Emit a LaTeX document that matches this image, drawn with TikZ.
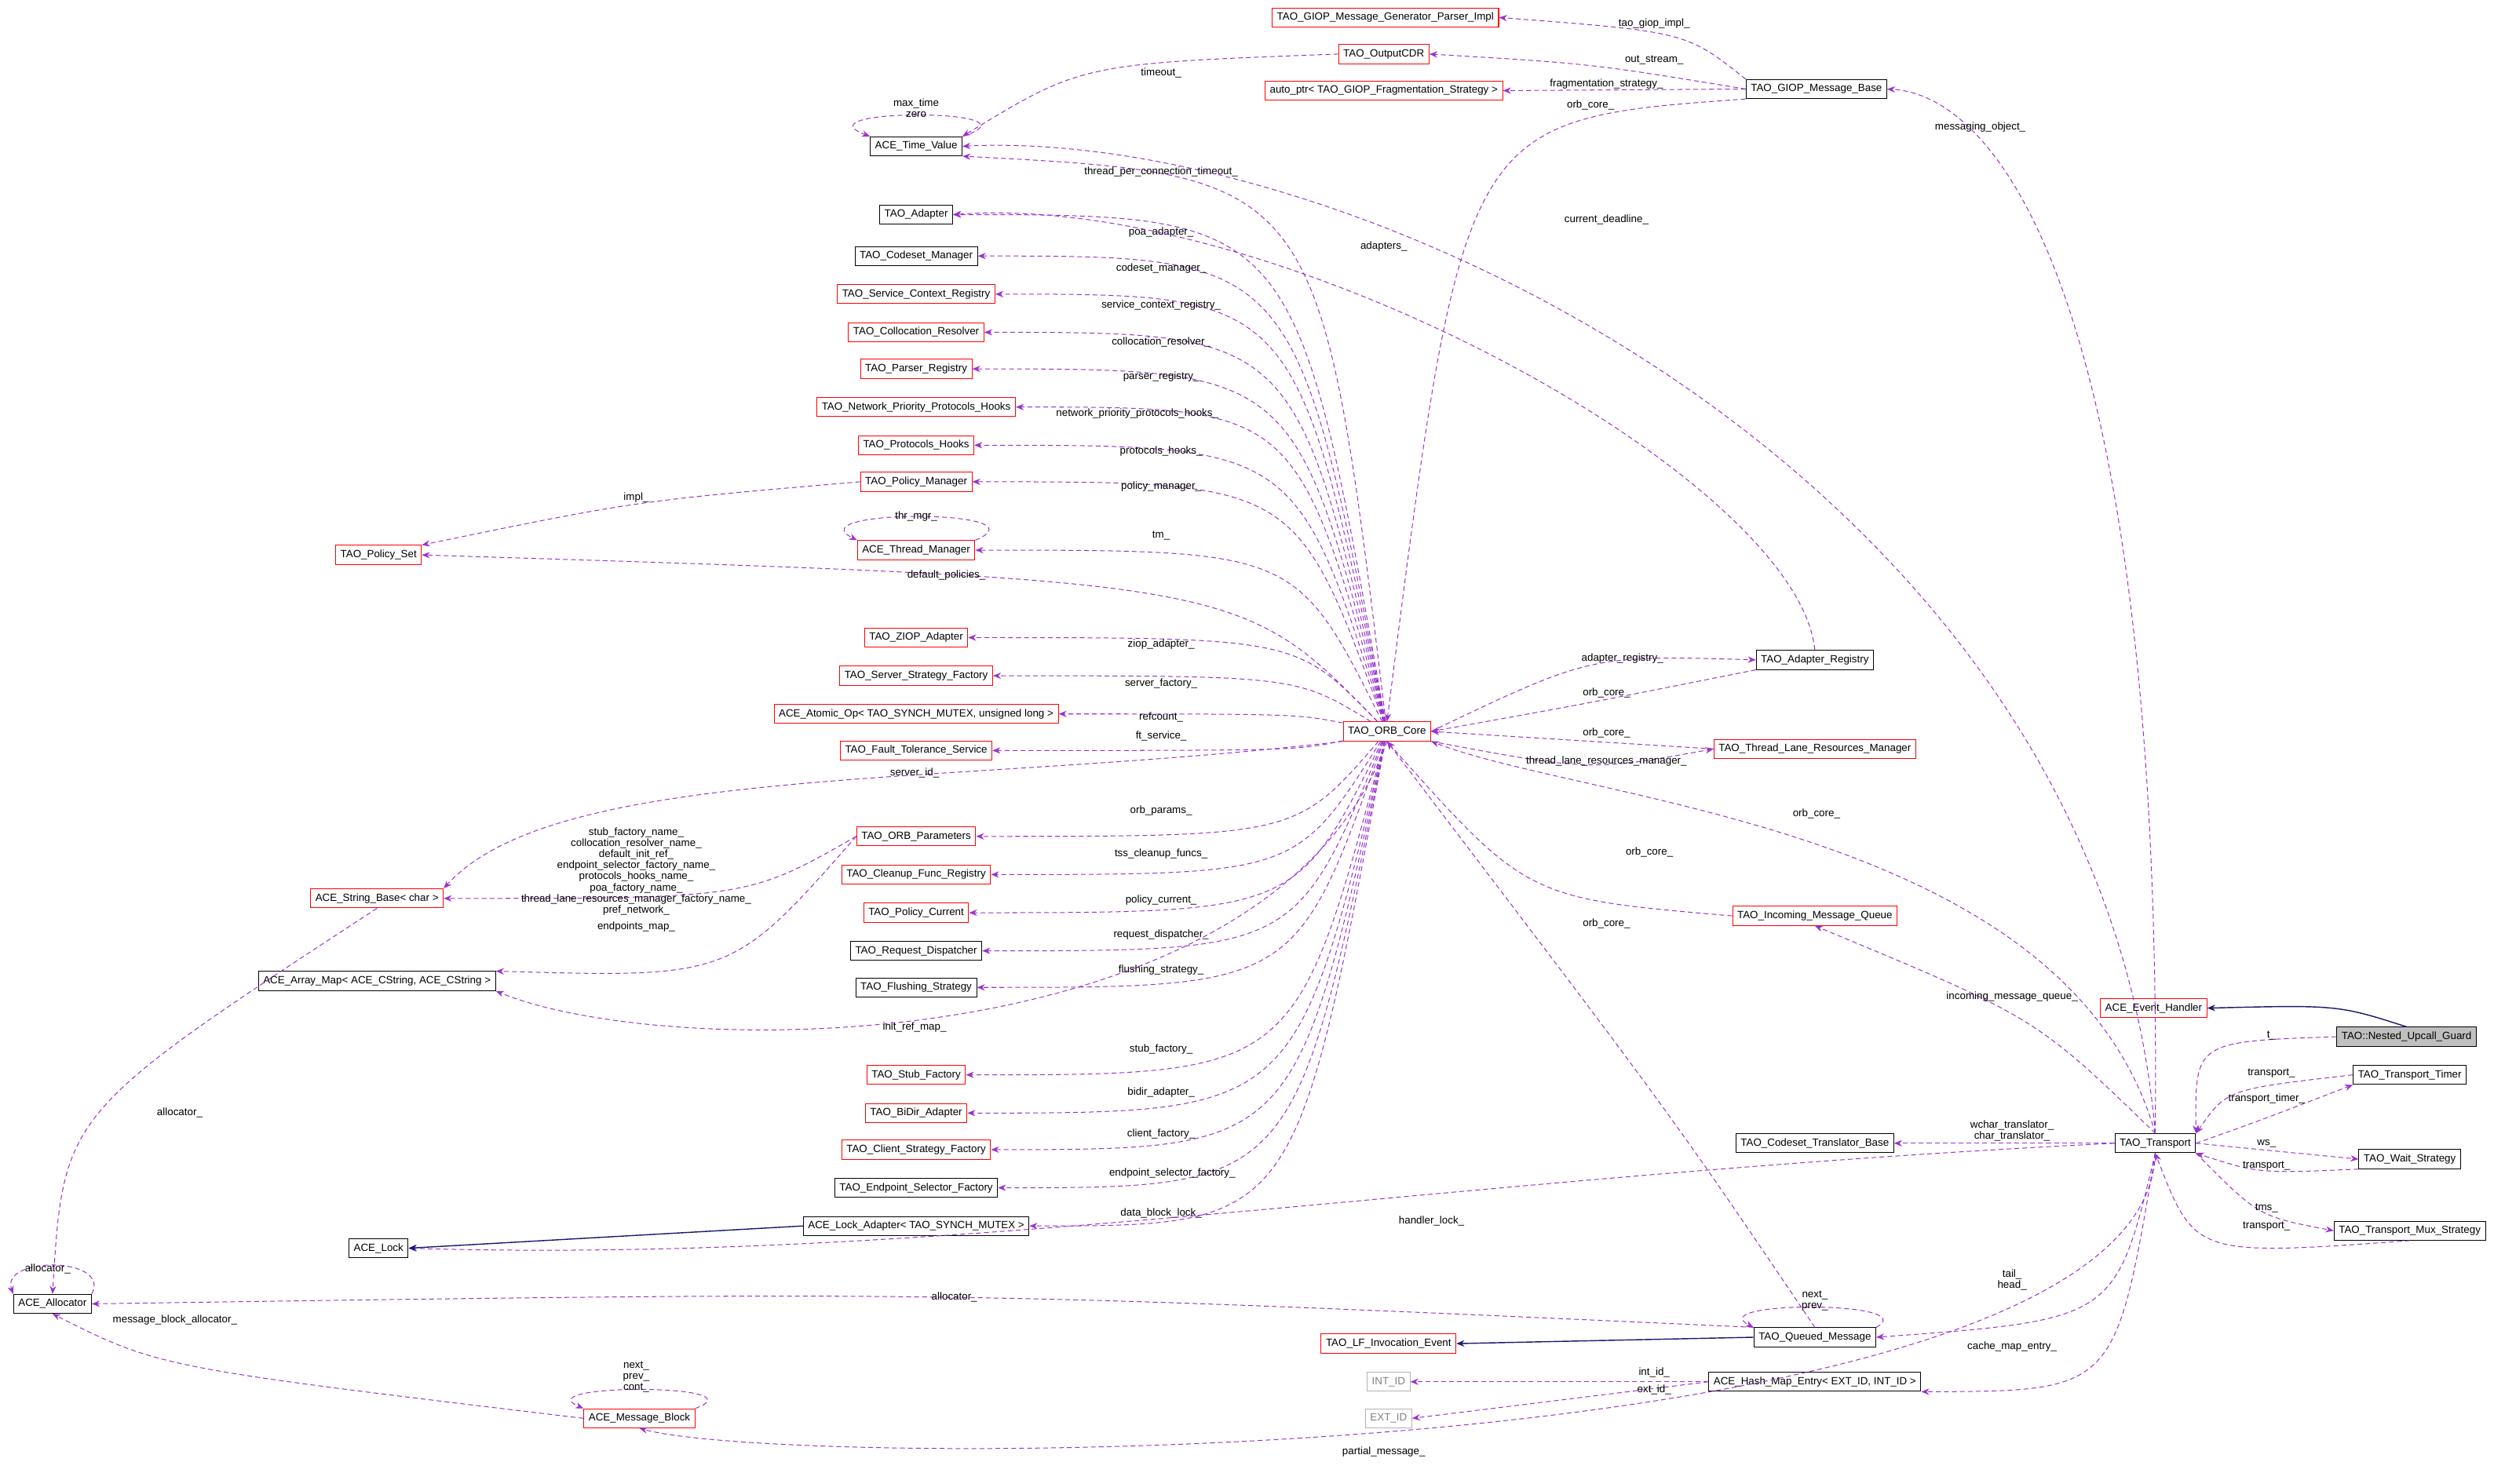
\documentclass[tikz,border=0pt]{standalone}
\usepackage{fontspec}
\setmainfont{Liberation Sans}
\usetikzlibrary{arrows.meta}
\definecolor{mem}{HTML}{9A32CD}
\definecolor{inh}{HTML}{191970}
\tikzset{
 box/.style={draw=black,line width=0.5pt,fill=white,font=\fontsize{6.6}{7}\selectfont,inner xsep=3pt,inner ysep=0pt,minimum height=12pt},
 rbox/.style={box,draw=red},
 gbox/.style={box,draw=gray!60,text=gray},
 mbr/.style={draw=mem,densely dashed,line width=0.5pt,-{Stealth[length=5pt,width=4pt]}},
 inhe/.style={draw=inh,line width=0.7pt,-{Stealth[length=5pt,width=4pt]}},
 lab/.style={font=\fontsize{6.6}{7}\selectfont,inner sep=0.5pt,align=center},
}
\newcommand{\fan}[5]{\draw[mbr] (core) .. controls (815,#2) .. (#1.east) node[lab,at={(#3,#4)}] {#5};}
\begin{document}
\begin{tikzpicture}[x=1pt,y=-1pt]
\useasboundingbox (0,0) rectangle (1568,933);
% nodes
\node[rbox] (gp) at (871,11) {TAO\_GIOP\_Message\_Generator\_Parser\_Impl};
\node[rbox] (oc) at (870,34) {TAO\_OutputCDR};
\node[rbox] (ap) at (870,57) {auto\_ptr< TAO\_GIOP\_Fragmentation\_Strategy >};
\node[box] (gb) at (1142,56) {TAO\_GIOP\_Message\_Base};
\node[box] (tv) at (576,92) {ACE\_Time\_Value};
\node[box] (ad) at (576,135) {TAO\_Adapter};
\node[box] (cm) at (576,161) {TAO\_Codeset\_Manager};
\node[rbox] (scr) at (576,185) {TAO\_Service\_Context\_Registry};
\node[rbox] (cr) at (576,209) {TAO\_Collocation\_Resolver};
\node[rbox] (pr) at (576,232) {TAO\_Parser\_Registry};
\node[rbox] (npph) at (576,256) {TAO\_Network\_Priority\_Protocols\_Hooks};
\node[rbox] (ph) at (576,280) {TAO\_Protocols\_Hooks};
\node[rbox] (pm) at (576,303) {TAO\_Policy\_Manager};
\node[rbox] (tm) at (576,346) {ACE\_Thread\_Manager};
\node[rbox] (ps) at (238,349) {TAO\_Policy\_Set};
\node[rbox] (za) at (576,401) {TAO\_ZIOP\_Adapter};
\node[rbox] (ssf) at (576,425) {TAO\_Server\_Strategy\_Factory};
\node[rbox] (ao) at (576,449) {ACE\_Atomic\_Op< TAO\_SYNCH\_MUTEX, unsigned long >};
\node[rbox] (ft) at (576,472) {TAO\_Fault\_Tolerance\_Service};
\node[rbox] (core) at (872,460) {TAO\_ORB\_Core};
\node[rbox] (op) at (576,526) {TAO\_ORB\_Parameters};
\node[rbox] (cfr) at (576,550) {TAO\_Cleanup\_Func\_Registry};
\node[rbox] (pc) at (576,574) {TAO\_Policy\_Current};
\node[box] (rd) at (576,598) {TAO\_Request\_Dispatcher};
\node[box] (fs) at (576,621) {TAO\_Flushing\_Strategy};
\node[rbox] (sb) at (237,565) {ACE\_String\_Base< char >};
\node[box] (am) at (237,617) {ACE\_Array\_Map< ACE\_CString, ACE\_CString >};
\node[rbox] (sf) at (576,676) {TAO\_Stub\_Factory};
\node[rbox] (ba) at (576,700) {TAO\_BiDir\_Adapter};
\node[rbox] (csf) at (576,723) {TAO\_Client\_Strategy\_Factory};
\node[box] (esf) at (576,747) {TAO\_Endpoint\_Selector\_Factory};
\node[box] (la) at (576,771) {ACE\_Lock\_Adapter< TAO\_SYNCH\_MUTEX >};
\node[box] (lock) at (238,785) {ACE\_Lock};
\node[box] (alloc) at (33,820) {ACE\_Allocator};
\node[rbox] (mb) at (402,892) {ACE\_Message\_Block};
\node[box] (ar) at (1141,415) {TAO\_Adapter\_Registry};
\node[rbox] (tl) at (1141,471) {TAO\_Thread\_Lane\_Resources\_Manager};
\node[rbox] (imq) at (1141,576) {TAO\_Incoming\_Message\_Queue};
\node[rbox] (eh) at (1354,634) {ACE\_Event\_Handler};
\node[box,fill=gray!50] (ng) at (1513,652) {TAO::Nested\_Upcall\_Guard};
\node[box] (tt) at (1515,676) {TAO\_Transport\_Timer};
\node[box] (tr) at (1355,719) {TAO\_Transport};
\node[box] (ctb) at (1141,719) {TAO\_Codeset\_Translator\_Base};
\node[box] (ws) at (1515,729) {TAO\_Wait\_Strategy};
\node[box] (mux) at (1515,774) {TAO\_Transport\_Mux\_Strategy};
\node[box] (qm) at (1141,841) {TAO\_Queued\_Message};
\node[rbox] (lfe) at (873,845) {TAO\_LF\_Invocation\_Event};
\node[box] (hm) at (1141,869) {ACE\_Hash\_Map\_Entry< EXT\_ID, INT\_ID >};
\node[gbox] (iid) at (873,869) {INT\_ID};
\node[gbox] (eid) at (873,892) {EXT\_ID};
% ORB core fan
\draw[mbr] (core) .. controls (830,110) .. (tv.south east) node[lab,at={(730,108)}] {thread\_per\_connection\_timeout\_};
\fan{ad}{135}{730}{146}{poa\_adapter\_}
\fan{cm}{161}{730}{169}{codeset\_manager\_}
\fan{scr}{185}{730}{192}{service\_context\_registry\_}
\fan{cr}{209}{730}{215}{collocation\_resolver\_}
\fan{pr}{232}{730}{237}{parser\_registry\_}
\fan{npph}{256}{715}{260}{network\_priority\_protocols\_hooks\_}
\fan{ph}{280}{730}{284}{protocols\_hooks\_}
\fan{pm}{303}{730}{306}{policy\_manager\_}
\fan{tm}{346}{730}{337}{tm\_}
\draw[mbr] (core) .. controls (780,365) .. (ps.east) node[lab,at={(595,362)}] {default\_policies\_};
\fan{za}{401}{730}{405}{ziop\_adapter\_}
\fan{ssf}{425}{730}{430}{server\_factory\_}
\fan{ao}{449}{730}{451}{refcount\_}
\fan{ft}{472}{730}{463}{ft\_service\_}
\draw[mbr] (core.south west) .. controls (600,495) and (350,480) .. (sb.north east) node[lab,at={(575,486)}] {server\_id\_};
\fan{op}{526}{730}{510}{orb\_params\_}
\fan{cfr}{550}{730}{537}{tss\_cleanup\_funcs\_}
\fan{pc}{574}{730}{566}{policy\_current\_}
\fan{rd}{598}{730}{588}{request\_dispatcher\_}
\fan{fs}{621}{730}{610}{flushing\_strategy\_}
\draw[mbr] (core.south) .. controls (800,668) and (420,668) .. (am.south east) node[lab,at={(575,646)}] {init\_ref\_map\_};
\fan{sf}{676}{730}{660}{stub\_factory\_}
\fan{ba}{700}{730}{687}{bidir\_adapter\_}
\fan{csf}{723}{730}{713}{client\_factory\_}
\fan{esf}{747}{737}{738}{endpoint\_selector\_factory\_}
\fan{la}{771}{730}{763}{data\_block\_lock\_}
% self loops
\draw[mbr] (tv.north east) .. controls (660,68) and (500,68) .. (tv.north west) node[lab,at={(576,68)}] {max\_time\\zero};
\draw[mbr] (tm.north east) .. controls (660,320) and (500,320) .. (tm.north west) node[lab,at={(576,325)}] {thr\_mgr\_};
\draw[mbr] (alloc.north east) .. controls (70,790) and (0,790) .. (alloc.north west) node[lab,at={(30,798)}] {allocator\_};
\draw[mbr] (mb.north east) .. controls (480,870) and (330,870) .. (mb.north west) node[lab,at={(400,866)}] {next\_\\prev\_\\cont\_};
\draw[mbr] (qm.north east) .. controls (1210,818) and (1070,818) .. (qm.north west) node[lab,at={(1141,818)}] {next\_\\prev\_};
% GIOP
\draw[mbr] (gb.north west) .. controls (1060,20) .. (gp.east) node[lab,at={(1040,15)}] {tao\_giop\_impl\_};
\draw[mbr] (gb.west) .. controls (1000,40) .. (oc.east) node[lab,at={(1040,38)}] {out\_stream\_};
\draw[mbr] (gb.west) -- (ap.east) node[lab,at={(1010,53)}] {fragmentation\_strategy\_};
\draw[mbr] (oc.west) .. controls (680,40) .. (tv.north east) node[lab,at={(730,46)}] {timeout\_};
\draw[mbr] (gb.south west) .. controls (920,75) .. (core.north) node[lab,at={(1000,66)}] {orb\_core\_};
\draw[mbr] (tr.north) .. controls (1320,300) and (850,80) .. (tv.east) node[lab,at={(1010,138)}] {current\_deadline\_};
\draw[mbr] (tr.north) .. controls (1360,200) and (1260,60) .. (gb.east) node[lab,at={(1245,80)}] {messaging\_object\_};
% registries
\draw[mbr] (ar.north) .. controls (1130,300) and (800,120) .. (ad.east) node[lab,at={(870,155)}] {adapters\_};
\draw[mbr] (core.east) .. controls (1000,412) .. (ar.west) node[lab,at={(1020,414)}] {adapter\_registry\_};
\draw[mbr] (ar.south west) .. controls (1000,442) .. (core.east) node[lab,at={(1010,436)}] {orb\_core\_};
\draw[mbr] (tl.west) -- (core.east) node[lab,at={(1010,461)}] {orb\_core\_};
\draw[mbr] (core.south east) .. controls (1000,485) .. (tl.west) node[lab,at={(1010,479)}] {thread\_lane\_resources\_manager\_};
\draw[mbr] (tr.north) .. controls (1300,520) and (1000,505) .. (core.south east) node[lab,at={(1142,512)}] {orb\_core\_};
\draw[mbr] (imq.west) .. controls (960,565) .. (core.south) node[lab,at={(1037,536)}] {orb\_core\_};
\draw[mbr] (qm.north) .. controls (1050,700) .. (core.south) node[lab,at={(1010,581)}] {orb\_core\_};
% transport
\draw[mbr] (tr.north) .. controls (1280,640) .. (imq.south) node[lab,at={(1265,627)}] {incoming\_message\_queue\_};
\draw[inhe] (ng.north) .. controls (1470,632) .. (eh.east);
\draw[mbr] (ng.west) .. controls (1380,655) .. (tr.north east) node[lab,at={(1428,651)}] {t\_};
\draw[mbr] (tt.west) .. controls (1400,685) .. (tr.north east) node[lab,at={(1428,675)}] {transport\_};
\draw[mbr] (tr.east) .. controls (1420,705) .. (tt.south west) node[lab,at={(1425,691)}] {transport\_timer\_};
\draw[mbr] (tr.west) -- (ctb.east) node[lab,at={(1265,711)}] {wchar\_translator\_\\char\_translator\_};
\draw[mbr] (tr.east) -- (ws.west) node[lab,at={(1425,719)}] {ws\_};
\draw[mbr] (ws.south west) .. controls (1420,738) .. (tr.south east) node[lab,at={(1425,733)}] {transport\_};
\draw[mbr] (tr.south east) .. controls (1420,765) .. (mux.west) node[lab,at={(1425,760)}] {tms\_};
\draw[mbr] (mux.south) .. controls (1380,790) .. (tr.south) node[lab,at={(1425,771)}] {transport\_};
\draw[mbr] (tr.west) .. controls (900,740) and (600,795) .. (lock.east) node[lab,at={(900,768)}] {handler\_lock\_};
\draw[inhe] (la.west) -- (lock.east);
\draw[mbr] (tr.south) .. controls (1330,830) .. (qm.east) node[lab,at={(1265,805)}] {tail\_\\head\_};
\draw[mbr] (tr.south) .. controls (1330,875) .. (hm.south east) node[lab,at={(1265,847)}] {cache\_map\_entry\_};
\draw[mbr] (tr.south) .. controls (1350,925) and (500,925) .. (mb.south) node[lab,at={(870,913)}] {partial\_message\_};
\draw[inhe] (qm.west) -- (lfe.east);
\draw[mbr] (hm.west) -- (iid.east) node[lab,at={(1040,863)}] {int\_id\_};
\draw[mbr] (hm.west) -- (eid.east) node[lab,at={(1040,874)}] {ext\_id\_};
% allocator and strings
\draw[mbr] (qm.north west) .. controls (600,812) .. (alloc.east) node[lab,at={(600,816)}] {allocator\_};
\draw[mbr] (mb.west) .. controls (100,860) .. (alloc.south) node[lab,at={(110,830)}] {message\_block\_allocator\_};
\draw[mbr] (sb.south) .. controls (40,700) .. (alloc.north) node[lab,at={(113,700)}] {allocator\_};
\draw[mbr] (pm.west) .. controls (400,315) .. (ps.north east) node[lab,at={(400,313)}] {impl\_};
\draw[mbr] (op.west) .. controls (470,565) .. (sb.east) node[lab,at={(400,548)}] {stub\_factory\_name\_\\collocation\_resolver\_name\_\\default\_init\_ref\_\\endpoint\_selector\_factory\_name\_\\protocols\_hooks\_name\_\\poa\_factory\_name\_\\thread\_lane\_resources\_manager\_factory\_name\_\\pref\_network\_};
\draw[mbr] (op.west) .. controls (460,615) .. (am.north east) node[lab,at={(400,583)}] {endpoints\_map\_};
\end{tikzpicture}
\end{document}
